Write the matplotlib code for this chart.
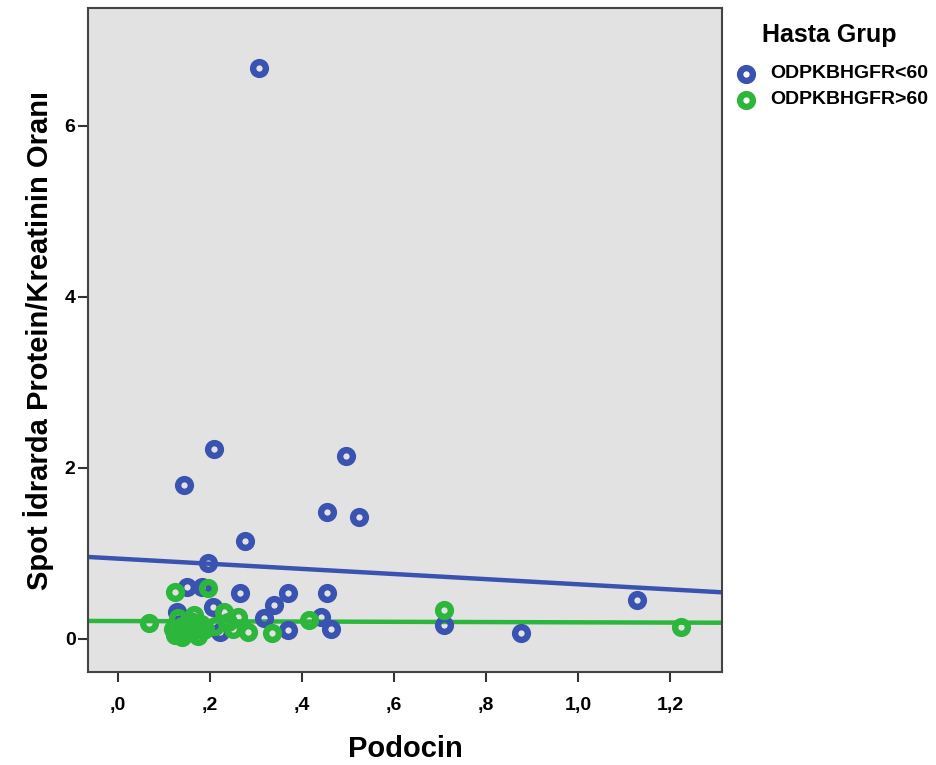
import matplotlib
matplotlib.use("Agg")
import matplotlib.pyplot as plt
from matplotlib.lines import Line2D
import numpy as np

plt.rcParams['font.family'] = ['Liberation Sans', 'DejaVu Sans']

# ---- data ----
blue_x = [0.307, 0.209, 0.496, 0.143, 0.454, 0.524, 0.276, 0.196, 0.150, 0.183,
          0.265, 0.370, 0.454, 1.128, 0.339, 0.207, 0.128, 0.317, 0.441, 0.709,
          0.876, 0.370, 0.463, 0.222, 0.185, 0.160, 0.140]
blue_y = [6.68, 2.22, 2.14, 1.80, 1.49, 1.43, 1.15, 0.89, 0.61, 0.61,
          0.54, 0.54, 0.54, 0.46, 0.40, 0.38, 0.32, 0.25, 0.26, 0.16,
          0.07, 0.11, 0.12, 0.08, 0.10, 0.20, 0.15]
green_x = [0.067, 0.124, 0.196, 0.230, 0.260, 0.415, 0.283, 0.335, 0.709, 1.224,
           0.120, 0.125, 0.140, 0.150, 0.160, 0.170, 0.180, 0.140, 0.190, 0.130,
           0.210, 0.240, 0.250, 0.165, 0.175]
green_y = [0.19, 0.55, 0.60, 0.32, 0.26, 0.22, 0.08, 0.07, 0.34, 0.14,
           0.12, 0.05, 0.15, 0.08, 0.20, 0.10, 0.18, 0.02, 0.12, 0.25,
           0.15, 0.20, 0.12, 0.28, 0.04]
# fit lines (intercept, slope)
blue_fit = (0.94, -0.30)
green_fit = (0.21, -0.015)

groups = ["ODPKBHGFR<60", "ODPKBHGFR>60"]
legend_title = "Hasta Grup"
x_ticks = [0.0, 0.2, 0.4, 0.6, 0.8, 1.0, 1.2]
x_tick_labels = [",0", ",2", ",4", ",6", ",8", "1,0", "1,2"]
y_ticks = [0, 2, 4, 6]
y_tick_labels = ["0", "2", "4", "6"]

BLUE = '#3a53b0'
GREEN = '#2db63c'
colors = [BLUE, GREEN]

W, H = 936, 765
fig = plt.figure(figsize=(W / 100, H / 100), dpi=100)
ax = fig.add_axes([88 / W, 1 - 672 / H, (722 - 88) / W, (672 - 8) / H])
ax.set_facecolor('#e2e2e2')

xlim = (-0.065, 1.313)
ylim = (-0.386, 7.38)

xs = np.array(xlim)
ax.plot(xs, blue_fit[0] + blue_fit[1] * xs, color=BLUE, lw=3.2, zorder=2)
ax.plot(xs, green_fit[0] + green_fit[1] * xs, color=GREEN, lw=3.2, zorder=2)

mk = dict(linestyle='none', marker='o', markerfacecolor='none',
          markersize=9.2, markeredgewidth=4.6, zorder=3)
ax.plot(blue_x, blue_y, markeredgecolor=BLUE, **mk)
ax.plot(green_x, green_y, markeredgecolor=GREEN, **mk)

ax.set_xlim(*xlim)
ax.set_ylim(*ylim)
ax.set_xticks(x_ticks)
ax.set_xticklabels(x_tick_labels, fontsize=14, fontweight='bold')
ax.set_yticks(y_ticks)
ax.set_yticklabels(y_tick_labels, fontsize=14, fontweight='bold')
ax.tick_params(axis='both', direction='out', length=7, width=1.5, color='#333333',
               top=False, right=False)
ax.tick_params(axis='x', pad=11)
ax.tick_params(axis='y', pad=2)
for s in ax.spines.values():
    s.set_color('#444444')
    s.set_linewidth(1.5)

ax.set_xlabel("Podocin", fontsize=21, fontweight='bold', labelpad=15)
ax.set_ylabel("Spot İdrarda Protein/Kreatinin Oranı", fontsize=21,
              fontweight='bold', labelpad=8)

# legend (drawn in figure pixel positions)
fig.text(829 / W, 1 - 35 / H, legend_title, fontsize=18, fontweight='bold',
         ha='center', va='center')
for i, (g, c) in enumerate(zip(groups, colors)):
    yy = 1 - (74 + 26 * i) / H
    fig.add_artist(Line2D([746 / W], [yy], transform=fig.transFigure,
                          markeredgecolor=c, **mk))
    fig.text(770 / W, yy, g, fontsize=14, fontweight='bold', ha='left', va='center')

fig.savefig("out.png", dpi=100)
